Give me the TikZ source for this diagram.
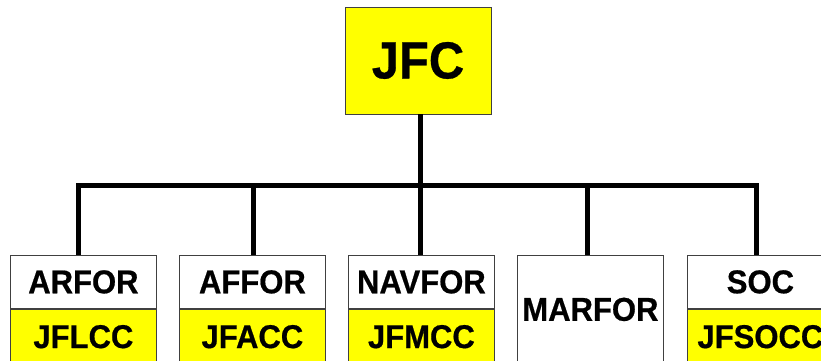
\documentclass[tikz,border=0pt]{standalone}
\usepackage{fontspec}
\setmainfont{Liberation Sans}[FakeStretch=0.94, BoldFeatures={FakeBold=0.6}]
\usetikzlibrary{positioning}
\definecolor{cmdyellow}{RGB}{255,255,0}

\tikzset{
  orgbox/.style={draw=black!75, line width=0.8pt, minimum width=146pt, inner sep=0pt,
    font=\fontsize{33}{33}\selectfont\bfseries},
  forbox/.style={orgbox, fill=white, minimum height=53pt},
  ccbox/.style={orgbox, fill=cmdyellow, minimum height=55pt},
  link/.style={line width=5pt}
}

\begin{document}
\begin{tikzpicture}[x=1pt, y=1pt]
\useasboundingbox (0,0) rectangle (821,360);
% --- comando superiore ---
\node[orgbox, fill=cmdyellow, minimum height=107pt, font=\fontsize{52}{52}\selectfont\bfseries] (jfc) at (418,299.5) {JFC};
% --- componenti ---
\node[forbox, anchor=north west] (arfor) at (10,105) {ARFOR};
\node[ccbox, below=0pt of arfor] (jflcc) {JFLCC};
\node[forbox, anchor=north west] (affor) at (179,105) {AFFOR};
\node[ccbox, below=0pt of affor] (jfacc) {JFACC};
\node[forbox, anchor=north west] (navfor) at (348,105) {NAVFOR};
\node[ccbox, below=0pt of navfor] (jfmcc) {JFMCC};
\node[orgbox, fill=white, minimum height=108pt, anchor=north west] (marfor) at (517,105) {MARFOR};
\node[forbox, anchor=north west] (soc) at (687,105) {SOC};
\node[ccbox, below=0pt of soc] (jfsocc) {JFSOCC};
% --- collegamenti ---
\coordinate (bus) at (0,175);
\draw[link] ([xshift=2pt]jfc.south) -- ([xshift=2pt]jfc.south |- bus);
\draw[link, line cap=rect] ([xshift=-5pt]arfor.north |- bus) -- ([xshift=-4pt]soc.north |- bus);
\foreach \u/\dx in {arfor/-5,affor/1,navfor/-1,marfor/-3,soc/-4}
  \draw[link] ([xshift=\dx pt]\u.north |- bus) -- ([xshift=\dx pt]\u.north);
\end{tikzpicture}
\end{document}
